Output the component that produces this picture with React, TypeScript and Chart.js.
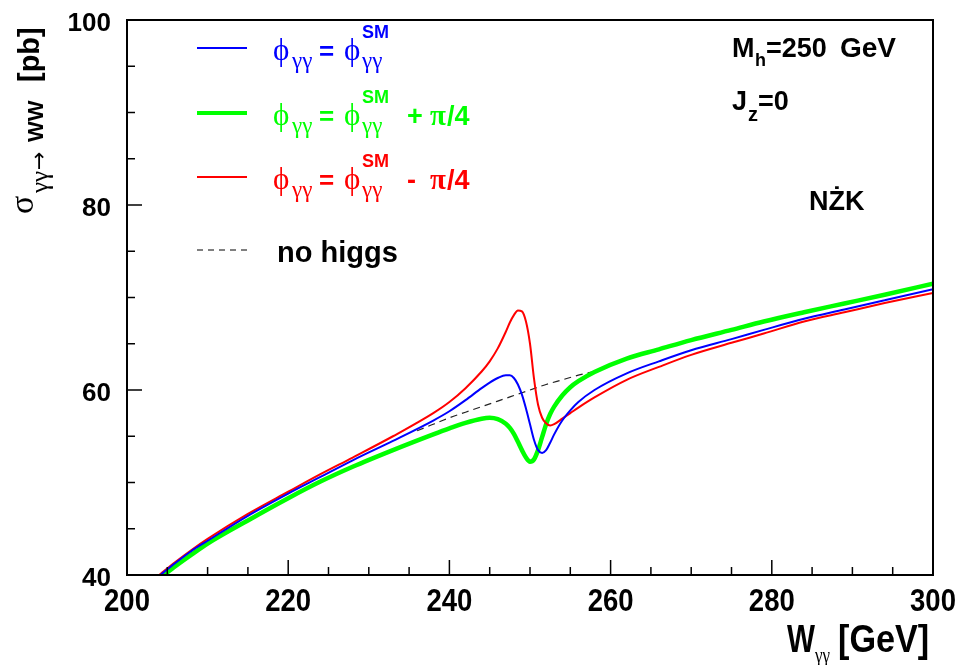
import React, { useEffect, useRef } from "react";
import { Chart, registerables } from "chart.js";

Chart.register(...registerables);

// ---- data ----
const energies = [
  204, 206, 208, 210, 215, 220, 224, 228, 233, 238, 240, 242, 244, 245, 246, 247, 247.5, 248, 248.5, 249,
  249.5, 250, 250.5, 251, 251.5, 252, 252.5, 253, 254, 255, 256, 258, 262, 266, 270, 275, 279, 284, 289, 294, 300,
];
// phi = phi_SM (blue)
const sigmaSM = [
  39.9, 41.3, 42.6, 43.7, 46.4, 48.8, 50.6, 52.4, 54.5, 56.7, 57.7, 58.9, 60.2, 60.8, 61.3, 61.6, 61.6, 61.3, 60.6, 59.5,
  58.0, 56.3, 54.6, 53.5, 53.2, 53.5, 54.3, 55.2, 56.7, 57.8, 58.7, 60.0, 61.8, 63.1, 64.3, 65.5, 66.5, 67.7, 68.7, 69.7, 70.9,
];
// phi = phi_SM + pi/4 (green)
const sigmaPlus = [
  39.6, 40.95, 42.2, 43.4, 45.9, 48.3, 50.1, 51.7, 53.5, 55.2, 55.85, 56.45, 56.9, 57.0, 56.85, 56.35, 55.9, 55.25, 54.4, 53.5,
  52.7, 52.25, 52.5, 53.5, 54.9, 56.3, 57.4, 58.2, 59.4, 60.3, 60.95, 61.95, 63.4, 64.4, 65.4, 66.5, 67.4, 68.4, 69.35, 70.3, 71.5,
];
// phi = phi_SM - pi/4 (red)
const sigmaMinus = [
  40.0, 41.4, 42.7, 43.9, 46.6, 49.0, 50.9, 52.7, 55.0, 57.5, 58.7, 60.2, 62.0, 63.1, 64.5, 66.3, 67.3, 68.1, 68.6, 68.5,
  67.4, 65.0, 61.2, 58.4, 57.0, 56.4, 56.15, 56.3, 56.9, 57.5, 58.1, 59.2, 61.1, 62.5, 63.8, 65.1, 66.1, 67.4, 68.4, 69.4, 70.5,
];
// no higgs (dashed)
const energiesNoHiggs = [236, 238, 240, 242, 244, 246, 248, 250, 252, 254, 256, 258];
const sigmaNoHiggs = [55.6, 56.3, 57.0, 57.6, 58.2, 58.8, 59.4, 60.0, 60.6, 61.1, 61.6, 62.0];

const xTickLabels = [200, 220, 240, 260, 280, 300];
const yTickLabels = [40, 60, 80, 100];
const xMinorStep = 5;
const yMinorStep = 5;

const BLUE = "#0000ff";
const GREEN = "#00ff00";
const RED = "#ff0000";
const SANS = '"Liberation Sans", Arial, Helvetica, sans-serif';
const SERIF = '"Liberation Serif", "DejaVu Serif", serif';
const bold = (s: number) => `bold ${s}px ${SANS}`;
const greek = (s: number) => `${s}px ${SERIF}`;

const pts = (xs: number[], ys: number[]) => xs.map((x, i) => ({ x, y: ys[i] }));

function txt(ctx: CanvasRenderingContext2D, t: string, x: number, y: number, font: string, color: string, sx = 1) {
  ctx.save();
  ctx.font = font;
  ctx.fillStyle = color;
  ctx.textBaseline = "alphabetic";
  ctx.textAlign = "left";
  ctx.translate(x, y);
  ctx.scale(sx, 1);
  ctx.fillText(t, 0, 0);
  ctx.restore();
}

function legendRow(ctx: CanvasRenderingContext2D, base: number, color: string, suffix: string | null) {
  txt(ctx, "\u03D5", 273, base, greek(31), color);
  txt(ctx, "\u03B3\u03B3", 292, base + 8, greek(23), color);
  txt(ctx, "=", 319, base, bold(26), color);
  txt(ctx, "\u03D5", 344, base, greek(31), color);
  txt(ctx, "\u03B3\u03B3", 362, base + 8, greek(23), color);
  txt(ctx, "SM", 362, base - 22, bold(18), color);
  if (suffix) {
    txt(ctx, suffix, 407, base, bold(27), color);
    txt(ctx, "\u03C0", 430, base, `bold 29px ${SERIF}`, color);
    txt(ctx, "/4", 447, base, bold(27), color);
  }
}

const decor = {
  id: "decor",
  afterDatasetsDraw(chart: any) {
    const { ctx, chartArea: a, scales } = chart;
    const xs = scales.x;
    const ys = scales.y;
    ctx.save();
    // frame
    ctx.strokeStyle = "#000";
    ctx.lineWidth = 2;
    ctx.strokeRect(a.left, a.top, a.right - a.left, a.bottom - a.top);
    // ticks (inward)
    ctx.lineWidth = 1.5;
    for (let v = ys.min; v <= ys.max + 1e-9; v += yMinorStep) {
      const y = ys.getPixelForValue(v);
      const len = yTickLabels.includes(v) ? 15 : 8;
      ctx.beginPath();
      ctx.moveTo(a.left, y);
      ctx.lineTo(a.left + len, y);
      ctx.stroke();
    }
    for (let v = xs.min; v <= xs.max + 1e-9; v += xMinorStep) {
      const x = xs.getPixelForValue(v);
      const len = xTickLabels.includes(v) ? 15 : 8;
      ctx.beginPath();
      ctx.moveTo(x, a.bottom);
      ctx.lineTo(x, a.bottom - len);
      ctx.stroke();
    }
    // y tick labels
    ctx.font = bold(26);
    ctx.fillStyle = "#000";
    ctx.textAlign = "right";
    ctx.textBaseline = "alphabetic";
    for (const v of yTickLabels) {
      ctx.fillText(String(v), a.left - 16, ys.getPixelForValue(v) + 11);
    }
    // x tick labels (condensed)
    for (const v of xTickLabels) {
      ctx.save();
      ctx.font = bold(32);
      ctx.textAlign = "center";
      ctx.translate(xs.getPixelForValue(v), a.bottom + 36);
      ctx.scale(0.86, 1);
      ctx.fillText(String(v), 0, 0);
      ctx.restore();
    }
    // x title
    txt(ctx, "W", 787, 652, bold(38), "#000", 0.78);
    txt(ctx, "\u03B3\u03B3", 815, 662, greek(20), "#000", 0.85);
    txt(ctx, "[GeV]", 838, 652, bold(38), "#000", 0.9);
    // y title (rotated)
    ctx.save();
    ctx.translate(37, 214);
    ctx.rotate(-Math.PI / 2);
    txt(ctx, "\u03C3", 0, -4, greek(34), "#000");
    txt(ctx, "\u03B3\u03B3", 21, 11, greek(25), "#000");
    txt(ctx, "\u2192", 44, 9, `22px "DejaVu Sans", sans-serif`, "#000");
    txt(ctx, "WW", 72, 6, bold(22), "#000");
    txt(ctx, "[pb]", 132, 2, bold(29), "#000");
    ctx.restore();

    // legend
    const lines: [number, string, number, number[]][] = [
      [48, BLUE, 2, []],
      [113, GREEN, 4, []],
      [177, RED, 2, []],
      [250, "#000", 1, [6, 5]],
    ];
    for (const [y, c, w, d] of lines) {
      ctx.beginPath();
      ctx.strokeStyle = c;
      ctx.lineWidth = w;
      ctx.setLineDash(d);
      ctx.moveTo(197, y);
      ctx.lineTo(247, y);
      ctx.stroke();
    }
    ctx.setLineDash([]);
    legendRow(ctx, 60, BLUE, null);
    legendRow(ctx, 125, GREEN, "+");
    legendRow(ctx, 189, RED, "-");
    txt(ctx, "no higgs", 277, 262, bold(29), "#000");

    // annotations
    txt(ctx, "M", 732, 57, bold(27), "#000");
    txt(ctx, "h", 755, 66, bold(18), "#000");
    txt(ctx, "=250", 766, 57, bold(27), "#000");
    txt(ctx, "GeV", 840, 57, bold(28), "#000");
    txt(ctx, "J", 732, 110, bold(27), "#000");
    txt(ctx, "z", 748, 121, bold(20), "#000");
    txt(ctx, "=0", 758, 110, bold(27), "#000");
    txt(ctx, "N\u017BK", 809, 210, bold(27), "#000");
    ctx.restore();
  },
};

export default function App() {
  const ref = useRef<HTMLCanvasElement | null>(null);
  useEffect(() => {
    document.body.style.margin = "0";
    const canvas = ref.current!;
    const chart = new Chart(canvas, {
      type: "line",
      data: {
        datasets: [
          { label: "phi = phi_SM", data: pts(energies, sigmaSM), borderColor: BLUE, borderWidth: 2, order: 0 },
          { label: "phi = phi_SM - pi/4", data: pts(energies, sigmaMinus), borderColor: RED, borderWidth: 2, order: 1 },
          { label: "phi = phi_SM + pi/4", data: pts(energies, sigmaPlus), borderColor: GREEN, borderWidth: 4.5, order: 2 },
          {
            label: "no higgs",
            data: pts(energiesNoHiggs, sigmaNoHiggs),
            borderColor: "#222",
            borderWidth: 1.2,
            borderDash: [7, 5],
            order: 3,
          },
        ],
      },
      options: {
        animation: false,
        responsive: false,
        maintainAspectRatio: false,
        devicePixelRatio: 1,
        layout: { padding: { left: 127, top: 20, right: 26, bottom: 90 } },
        elements: {
          point: { radius: 0 },
          line: { cubicInterpolationMode: "monotone", fill: false },
        },
        plugins: { legend: { display: false }, tooltip: { enabled: false } },
        scales: {
          x: { type: "linear", min: 200, max: 300, display: false },
          y: { type: "linear", min: 40, max: 100, display: false },
        },
      },
      plugins: [decor],
    });
    return () => chart.destroy();
  }, []);
  return <canvas ref={ref} width={959} height={665} style={{ display: "block", background: "#fff" }} />;
}
